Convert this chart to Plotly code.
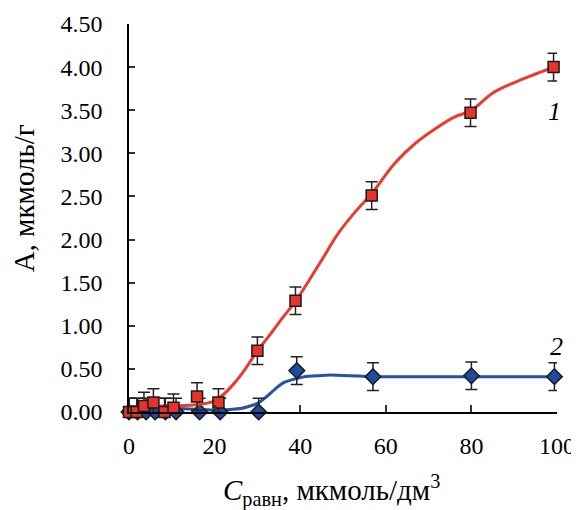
import plotly.graph_objects as go

# Series 1 (red squares)
x1 = [0, 1.8, 3.5, 5.7, 8.3, 10.4, 15.9, 20.9, 30.0, 38.9, 56.7, 79.8, 99.2]
y1 = [0.00, 0.00, 0.07, 0.11, 0.00, 0.05, 0.18, 0.11, 0.71, 1.29, 2.51, 3.47, 4.00]
e1 = [0.16] * len(x1)

# Series 2 (blue diamonds)
x2 = [0, 2.0, 4.0, 6.1, 8.5, 11.0, 16.5, 21.3, 30.3, 39.2, 57.0, 80.0, 99.4]
y2 = [0.00, 0.00, 0.00, 0.00, 0.00, 0.00, 0.00, 0.00, 0.00, 0.48, 0.41, 0.42, 0.41]
e2 = [0.16] * len(x2)

# Fitted curves
cx1 = [0, 5, 10, 15, 18, 20, 22, 24, 26, 28, 30, 33, 36, 39, 42, 45, 49, 53, 57, 62, 67, 72, 76, 80, 85, 90, 95, 99.2]
cy1 = [0.06, 0.07, 0.07, 0.08, 0.10, 0.13, 0.20, 0.30, 0.42, 0.56, 0.71, 0.90, 1.10, 1.29, 1.52, 1.76, 2.08, 2.33, 2.55, 2.88, 3.12, 3.30, 3.42, 3.50, 3.70, 3.82, 3.92, 4.00]
cx2 = [0, 5, 11, 16.6, 20, 23.6, 26, 28.3, 30, 32.2, 34, 36.1, 38.5, 41, 44, 47, 52, 57, 65, 80, 100]
cy2 = [0.02, 0.03, 0.04, 0.03, 0.02, 0.03, 0.04, 0.07, 0.10, 0.18, 0.26, 0.34, 0.38, 0.41, 0.42, 0.43, 0.42, 0.41, 0.41, 0.41, 0.41]

xticks = [0, 20, 40, 60, 80, 100]
yticks = [0, 0.5, 1.0, 1.5, 2.0, 2.5, 3.0, 3.5, 4.0, 4.5]
ytick_labels = ["0.00", "0.50", "1.00", "1.50", "2.00", "2.50", "3.00", "3.50", "4.00", "4.50"]

X_TITLE = "<i>C</i><sub>равн</sub>, мкмоль/дм<sup>3</sup>"
Y_TITLE = "А, мкмоль/г"

RED = "#EE3A2B"
RED_FILL = "#E8332A"
BLUE = "#2352A6"
BLUE_FILL = "#1D4C9E"
EDGE = "#1a1a1a"
FONT = "Liberation Serif"

fig = go.Figure()

fig.add_trace(go.Scatter(x=cx2, y=cy2, mode="lines", line=dict(color=BLUE, width=3, shape="spline"),
                         hoverinfo="skip", showlegend=False))
fig.add_trace(go.Scatter(x=x2, y=y2, mode="markers", cliponaxis=False,
                         marker=dict(symbol="diamond", size=12, color=BLUE_FILL, line=dict(color=EDGE, width=1.5)),
                         error_y=dict(type="data", array=e2, color="#222222", thickness=1.5, width=6),
                         showlegend=False))
fig.add_trace(go.Scatter(x=cx1, y=cy1, mode="lines", line=dict(color=RED, width=3, shape="spline"),
                         hoverinfo="skip", showlegend=False))
fig.add_trace(go.Scatter(x=x1, y=y1, mode="markers", cliponaxis=False,
                         marker=dict(symbol="square", size=11, color=RED_FILL, line=dict(color=EDGE, width=1.5)),
                         error_y=dict(type="data", array=e1, color="#222222", thickness=1.5, width=6),
                         showlegend=False))

fig.add_annotation(x=99.3, y=3.48, text="<i>1</i>", showarrow=False,
                   font=dict(family=FONT, size=26, color="black"))
fig.add_annotation(x=99.8, y=0.76, text="<i>2</i>", showarrow=False,
                   font=dict(family=FONT, size=26, color="black"))

# Axis titles placed as annotations for exact positioning
fig.add_annotation(xref="paper", yref="paper", x=-0.245, y=0.551, text=Y_TITLE, textangle=-90,
                   showarrow=False, xanchor="center", yanchor="middle",
                   font=dict(family=FONT, size=29, color="black"))
fig.add_annotation(xref="paper", yref="paper", x=0.472, y=-0.203, text=X_TITLE,
                   showarrow=False, xanchor="center", yanchor="middle",
                   font=dict(family=FONT, size=29, color="black"))

fig.update_layout(
    width=571, height=502,
    margin=dict(l=121, r=22, t=16, b=98),
    paper_bgcolor="white", plot_bgcolor="white",
    font=dict(family=FONT, size=24, color="black"),
    xaxis=dict(range=[0, 100], tickvals=xticks, ticks="inside", ticklen=7, tickwidth=1.5,
               tickcolor="#333333", showline=True, linecolor="black", linewidth=1.5,
               showgrid=False, zeroline=False, ticklabelstandoff=11, automargin=False,
               ticklabeloverflow="allow"),
    yaxis=dict(range=[0, 4.5], tickvals=yticks, ticktext=ytick_labels, ticks="inside", ticklen=6,
               tickwidth=1.5, tickcolor="#333333", showline=True, linecolor="black", linewidth=1.5,
               showgrid=False, zeroline=False, ticklabelstandoff=20, automargin=False),
)

fig.write_html("out.html")
